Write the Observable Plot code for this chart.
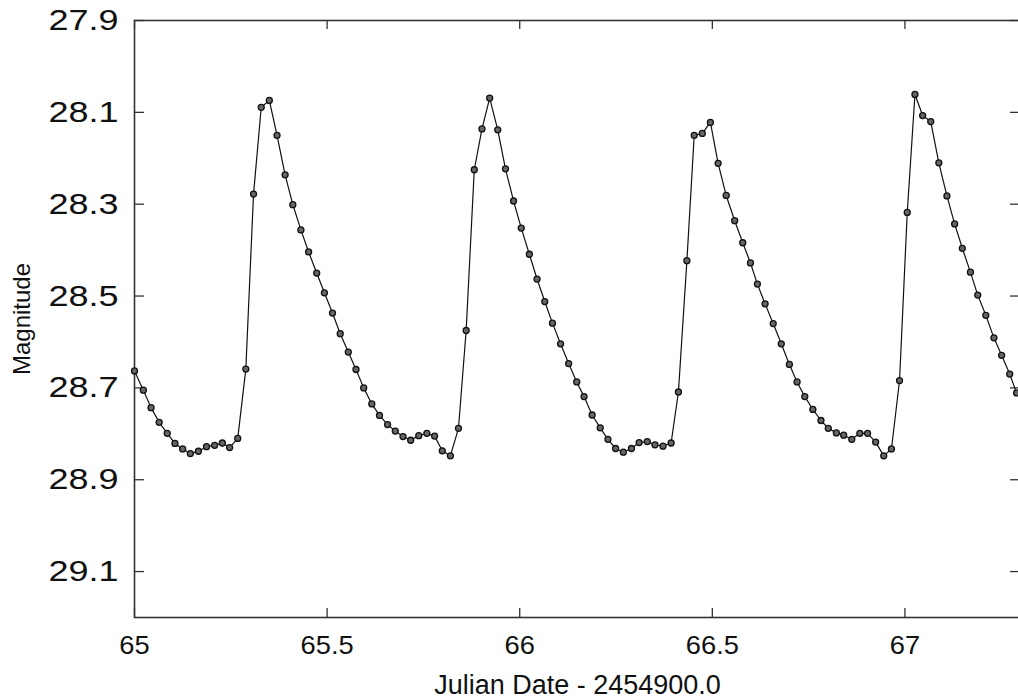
<!DOCTYPE html>
<html>
<head>
<meta charset="utf-8">
<script src="https://cdn.jsdelivr.net/npm/d3@7"></script>
<script src="https://cdn.jsdelivr.net/npm/@observablehq/plot@0.6"></script>
<style>
  html, body { margin: 0; padding: 0; background: #fff; }
  #chart { width: 1018px; height: 700px; overflow: hidden; }
</style>
</head>
<body>
<div id="chart"></div>
<script>
// Julian Date - 2454900.0
const jd = [
  65.000, 65.023, 65.043, 65.064, 65.085, 65.105, 65.125, 65.145, 65.166, 65.187,
  65.208, 65.228, 65.247, 65.268, 65.289, 65.309, 65.329, 65.350, 65.370, 65.391,
  65.411, 65.432, 65.452, 65.473, 65.493, 65.514, 65.534, 65.555, 65.575, 65.595,
  65.616, 65.636, 65.657, 65.677, 65.697, 65.717, 65.738, 65.759, 65.779, 65.799,
  65.820, 65.841, 65.861, 65.882, 65.902, 65.922, 65.943, 65.963, 65.984, 66.004,
  66.025, 66.045, 66.065, 66.085, 66.106, 66.127, 66.148, 66.167, 66.188, 66.209,
  66.229, 66.249, 66.269, 66.290, 66.310, 66.331, 66.351, 66.372, 66.393, 66.412,
  66.434, 66.453, 66.474, 66.495, 66.515, 66.536, 66.558, 66.579, 66.599, 66.617,
  66.637, 66.658, 66.679, 66.700, 66.720, 66.740, 66.761, 66.782, 66.801, 66.822,
  66.841, 66.862, 66.883, 66.903, 66.924, 66.945, 66.965, 66.986, 67.006, 67.026,
  67.046, 67.067, 67.088, 67.109, 67.129, 67.149, 67.170, 67.189, 67.210, 67.231,
  67.251, 67.272, 67.290
];
// Magnitude
const mag = [
  28.663, 28.705, 28.743, 28.775, 28.799, 28.821, 28.833, 28.843, 28.838, 28.828,
  28.825, 28.820, 28.830, 28.810, 28.659, 28.278, 28.089, 28.074, 28.150, 28.236,
  28.301, 28.356, 28.404, 28.450, 28.493, 28.537, 28.582, 28.622, 28.660, 28.700,
  28.735, 28.760, 28.780, 28.794, 28.806, 28.814, 28.804, 28.799, 28.805, 28.837,
  28.848, 28.788, 28.575, 28.225, 28.136, 28.069, 28.138, 28.223, 28.293, 28.352,
  28.409, 28.463, 28.512, 28.559, 28.604, 28.647, 28.687, 28.719, 28.759, 28.787,
  28.812, 28.832, 28.840, 28.832, 28.819, 28.817, 28.824, 28.827, 28.820, 28.709,
  28.423, 28.150, 28.146, 28.122, 28.211, 28.281, 28.336, 28.384, 28.428, 28.474,
  28.517, 28.560, 28.604, 28.649, 28.687, 28.719, 28.747, 28.771, 28.788, 28.798,
  28.803, 28.812, 28.799, 28.799, 28.818, 28.848, 28.833, 28.684, 28.318, 28.061,
  28.107, 28.120, 28.210, 28.282, 28.343, 28.396, 28.448, 28.498, 28.542, 28.591,
  28.629, 28.670, 28.711
];
const xTicks = [65, 65.5, 66, 66.5, 67];
const yTicks = [27.9, 28.1, 28.3, 28.5, 28.7, 28.9, 29.1];
const xDomain = [65, 67.3];
const yDomain = [27.9, 29.2];
const xTitle = "Julian Date - 2454900.0";
const yTitle = "Magnitude";

const data = jd.map((d, i) => ({jd: d, mag: mag[i]}));

const W = 1018, H = 700;
const mL = 134, mR = -2, mT = 20, mB = 83;
const plotW = W - mL - mR, plotH = H - mT - mB;
const tickLen = 10;

const chart = Plot.plot({
  width: W,
  height: H,
  marginLeft: mL,
  marginRight: mR,
  marginTop: mT,
  marginBottom: mB,
  style: {fontFamily: "'Liberation Sans', Arial, Helvetica, sans-serif", background: "#fff", color: "#111"},
  x: {domain: xDomain},
  y: {domain: yDomain, reverse: true},
  marks: [
    // inward ticks on all four sides (gnuplot style)
    Plot.ruleY(yTicks, {y: d => d, insetRight: plotW - tickLen, stroke: "#333", strokeWidth: 1.3}),
    Plot.ruleY(yTicks, {y: d => d, insetLeft: plotW - tickLen, stroke: "#333", strokeWidth: 1.3}),
    Plot.ruleX(xTicks, {x: d => d, insetTop: plotH - 9, stroke: "#333", strokeWidth: 1.3}),
    Plot.ruleX(xTicks, {x: d => d, insetBottom: plotH - 9, stroke: "#333", strokeWidth: 1.3}),
    Plot.frame({stroke: "#333", strokeWidth: 1.6}),
    Plot.axisY(yTicks, {tickSize: 0, tickPadding: 16, fontSize: 30, tickFormat: d => d.toFixed(1), label: null, fill: "#111"}),
    Plot.axisX(xTicks, {tickSize: 0, tickPadding: 18, fontSize: 26, tickFormat: d => String(d), label: null, fill: "#111"}),
    Plot.line(data, {x: "jd", y: "mag", stroke: "#111", strokeWidth: 1.2}),
    Plot.dot(data, {x: "jd", y: "mag", r: 3, stroke: "#111", strokeWidth: 1.3, fill: "#666"}),
    Plot.text([yTitle], {frameAnchor: "left", dx: -112, rotate: -90, fontSize: 24, fill: "#111", textAnchor: "middle", lineAnchor: "middle"}),
    Plot.text([xTitle], {frameAnchor: "bottom", dy: 67.5, fontSize: 27, fill: "#111", textAnchor: "middle", lineAnchor: "middle"})
  ]
});

// widen tick labels horizontally to match the reference's stretched digits
function stretch(sel, sx) {
  chart.querySelectorAll(sel).forEach(t => {
    let tr = t.getAttribute("transform");
    if (!tr) {
      const x = t.getAttribute("x") || 0, y = t.getAttribute("y") || 0;
      t.removeAttribute("x"); t.removeAttribute("y");
      tr = `translate(${x},${y})`;
    }
    t.setAttribute("transform", tr + ` scale(${sx},1)`);
  });
}
stretch('[aria-label="y-axis tick label"] text', 1.2);
stretch('[aria-label="x-axis tick label"] text', 1.05);

document.getElementById("chart").appendChild(chart);
</script>
</body>
</html>
